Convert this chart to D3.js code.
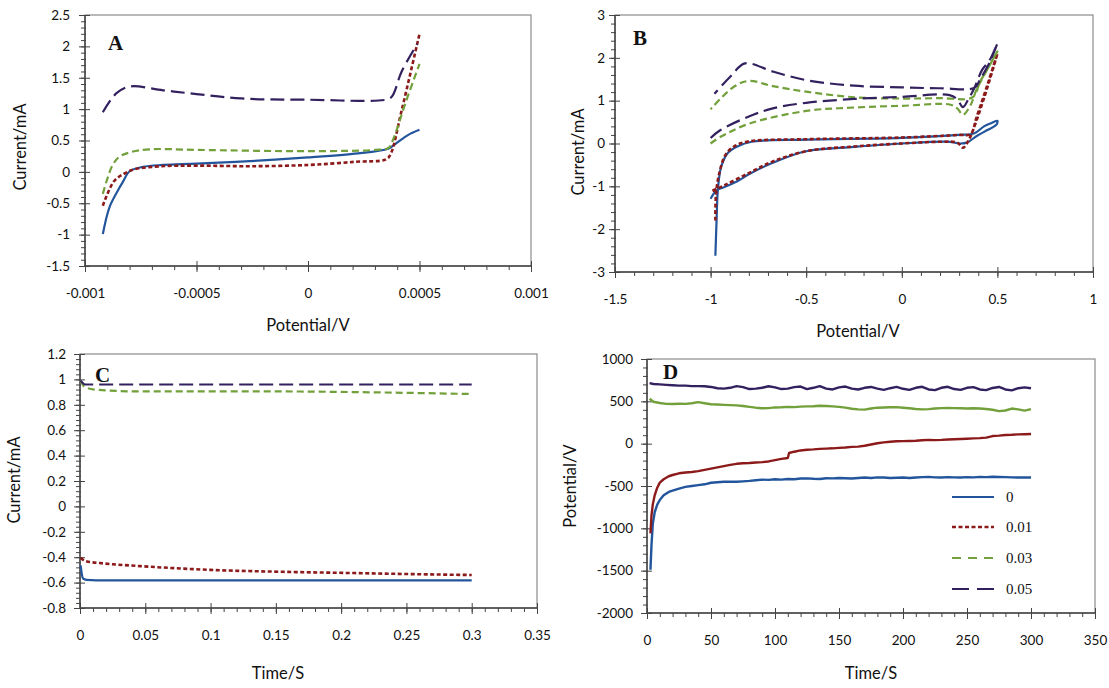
<!DOCTYPE html>
<html>
<head>
<meta charset="utf-8">
<script src="https://cdn.jsdelivr.net/npm/d3@7"></script>
<style>
  body { margin: 0; background: #fff; }
</style>
</head>
<body>
<svg id="chart" width="1109" height="688"></svg>
<script>
// ---- data ----
var seriesNames = ["0", "0.01", "0.03", "0.05"];

// A: potential (V) vs current (mA)
var aBlue = [[-0.00092,-0.99],[-0.00089,-0.56],[-0.00085,-0.28],[-0.00083,-0.16],[-0.0008,0.01],[-0.00074,0.08],[-0.00065,0.11],[-0.0005,0.13],[-0.00026,0.17],[0,0.23],[0.00021,0.29],[0.00036,0.37],[0.00039,0.44],[0.00045,0.59],[0.0005,0.67]];
var aRed = [[-0.00092,-0.54],[-0.00087,-0.15],[-0.00082,-0.02],[-0.00078,0.04],[-0.00066,0.09],[-0.0005,0.10],[-0.00026,0.09],[0,0.11],[0.00021,0.16],[0.00035,0.20],[0.00037,0.28],[0.00042,0.98],[0.0005,2.2]];
var aGreen = [[-0.00092,-0.35],[-0.00088,0.08],[-0.00085,0.23],[-0.0008,0.31],[-0.00071,0.36],[-0.0005,0.35],[0,0.33],[0.0003,0.35],[0.00036,0.38],[0.00038,0.5],[0.00044,1.13],[0.0005,1.72]];
var aPurple = [[-0.00092,0.95],[-0.00086,1.25],[-0.0008,1.36],[-0.00065,1.30],[-0.0005,1.24],[-0.0003,1.17],[0,1.15],[0.00036,1.16],[0.00038,1.22],[0.00042,1.60],[0.00049,2.04]];
var aXTicks = [-0.001, -0.0005, 0, 0.0005, 0.001];
var aXLabels = ["-0.001", "-0.0005", "0", "0.0005", "0.001"];
var aYTicks = [-1.5, -1, -0.5, 0, 0.5, 1, 1.5, 2, 2.5];
var aYLabels = ["-1.5", "-1", "-0.5", "0", "0.5", "1", "1.5", "2", "2.5"];

// B: cyclic voltammograms
var bBlue = [[-0.975,-2.62],[-0.968,-1.7],[-0.962,-1.08],[-0.945,-0.55],[-0.91,-0.22],[-0.86,-0.07],[-0.785,0.04],[-0.5,0.09],[0,0.13],[0.3,0.2],[0.38,0.24],[0.43,0.40],[0.47,0.48],[0.5,0.53],[0.495,0.44],[0.45,0.32],[0.39,0.17],[0.34,0.02],[0.3,0.0],[0.25,0.04],[0,0.0],[-0.25,-0.08],[-0.5,-0.18],[-0.675,-0.45],[-0.8,-0.72],[-0.86,-0.88],[-0.93,-1.02],[-0.97,-1.1],[-1.0,-1.29]];
var bRed = [[-0.975,-1.8],[-0.972,-1.2],[-0.955,-0.7],[-0.92,-0.25],[-0.87,-0.05],[-0.8,0.05],[-0.5,0.10],[0,0.14],[0.3,0.2],[0.36,0.22],[0.39,0.6],[0.45,1.4],[0.5,2.1],[0.44,1.2],[0.38,0.4],[0.35,0.08],[0.32,-0.1],[0.29,0.02],[0.2,0.04],[0,0.0],[-0.25,-0.07],[-0.5,-0.18],[-0.675,-0.42],[-0.8,-0.69],[-0.93,-0.98],[-1.0,-1.12]];
var bGreen = [[-1.0,0.0],[-0.95,0.15],[-0.8,0.46],[-0.5,0.76],[-0.25,0.84],[0,0.88],[0.25,0.91],[0.29,0.82],[0.32,0.67],[0.36,0.9],[0.39,1.25],[0.45,1.75],[0.5,2.15],[0.45,1.75],[0.41,1.45],[0.37,1.08],[0.2,1.06],[0,1.05],[-0.25,1.08],[-0.5,1.21],[-0.675,1.34],[-0.8,1.46],[-0.88,1.32],[-1.0,0.8]];
var bPurple = [[-1.0,0.13],[-0.95,0.31],[-0.8,0.63],[-0.675,0.82],[-0.5,0.95],[-0.25,1.04],[0,1.09],[0.25,1.13],[0.29,1.03],[0.32,0.85],[0.35,1.05],[0.38,1.3],[0.42,1.72],[0.46,1.95],[0.5,2.34],[0.46,1.9],[0.41,1.5],[0.38,1.3],[0.2,1.29],[0,1.31],[-0.25,1.35],[-0.5,1.48],[-0.675,1.68],[-0.82,1.87],[-0.895,1.57],[-0.98,1.16]];
var bXTicks = [-1.5, -1, -0.5, 0, 0.5, 1];
var bXLabels = ["-1.5", "-1", "-0.5", "0", "0.5", "1"];
var bYTicks = [-3, -2, -1, 0, 1, 2, 3];
var bYLabels = ["-3", "-2", "-1", "0", "1", "2", "3"];

// C: current vs time
var cBlue = [[0.0005,-0.465],[0.0015,-0.54],[0.0025,-0.57],[0.005,-0.578],[0.02,-0.583],[0.1,-0.583],[0.2,-0.583],[0.3,-0.583]];
var cRed = [[0.0005,-0.405],[0.004,-0.43],[0.019,-0.45],[0.046,-0.47],[0.1,-0.50],[0.155,-0.515],[0.21,-0.525],[0.265,-0.535],[0.3,-0.54]];
var cGreen = [[0.0005,0.99],[0.003,0.945],[0.011,0.92],[0.046,0.905],[0.1,0.905],[0.155,0.905],[0.21,0.9],[0.3,0.885]];
var cPurple = [[0.0005,0.99],[0.004,0.96],[0.3,0.96]];
var cXTicks = [0, 0.05, 0.1, 0.15, 0.2, 0.25, 0.3, 0.35];
var cXLabels = ["0", "0.05", "0.1", "0.15", "0.2", "0.25", "0.3", "0.35"];
var cYTicks = [-0.8, -0.6, -0.4, -0.2, 0, 0.2, 0.4, 0.6, 0.8, 1, 1.2];
var cYLabels = ["-0.8", "-0.6", "-0.4", "-0.2", "0", "0.2", "0.4", "0.6", "0.8", "1", "1.2"];

// D: potential vs time
var dBlue = [[2.7,-1490],[3.5,-1200],[4.5,-950],[6,-810],[8,-720],[10,-665],[13,-610],[17,-570],[20,-555],[25,-530],[30,-510],[35,-500],[40,-490],[45,-480],[50,-462],[55,-455],[60,-450],[65,-448],[70,-450],[75,-445],[80,-440],[85,-432],[90,-425],[95,-428],[100,-420],[105,-425],[110,-418],[115,-420],[120,-412],[125,-410],[130,-415],[135,-418],[140,-408],[145,-410],[150,-405],[155,-408],[160,-412],[165,-405],[170,-400],[175,-405],[180,-398],[185,-400],[190,-405],[195,-402],[200,-400],[205,-405],[210,-400],[215,-395],[220,-392],[225,-398],[230,-400],[235,-395],[240,-398],[245,-400],[250,-395],[255,-398],[260,-392],[265,-395],[270,-390],[275,-393],[280,-395],[285,-398],[290,-400],[295,-398],[300,-400]];
var dRed = [[2.7,-1060],[3.5,-850],[4.5,-720],[6,-610],[8,-520],[10,-460],[13,-420],[17,-385],[20,-370],[25,-350],[30,-340],[35,-335],[40,-325],[45,-310],[50,-295],[55,-280],[60,-265],[65,-250],[70,-238],[75,-232],[80,-228],[85,-222],[90,-218],[95,-210],[100,-195],[105,-180],[110,-170],[111,-110],[115,-95],[120,-80],[125,-72],[130,-68],[135,-62],[140,-58],[145,-55],[150,-50],[155,-45],[160,-38],[165,-35],[170,-25],[175,-10],[180,5],[185,15],[190,22],[195,28],[200,30],[205,32],[210,35],[215,40],[220,45],[225,42],[230,45],[235,50],[240,52],[245,55],[250,58],[255,62],[260,65],[265,72],[270,90],[275,95],[280,102],[285,105],[290,110],[295,112],[300,115]];
var dGreen = [[2,530],[5,495],[10,480],[15,470],[20,468],[25,472],[30,470],[35,478],[40,490],[45,478],[50,465],[55,462],[60,458],[65,455],[70,452],[75,445],[80,435],[85,425],[90,418],[95,420],[100,428],[105,430],[110,435],[115,432],[120,438],[125,440],[130,442],[135,448],[140,445],[145,440],[150,435],[155,425],[160,412],[165,405],[170,402],[175,415],[180,425],[185,428],[190,430],[195,432],[200,425],[205,418],[210,410],[215,405],[220,408],[225,415],[230,420],[235,422],[240,420],[245,418],[250,415],[255,418],[260,415],[265,410],[270,400],[275,385],[280,392],[285,415],[290,405],[295,390],[300,408]];
var dPurple = [[2,715],[5,705],[10,700],[15,695],[20,690],[25,685],[30,685],[35,680],[40,680],[45,678],[50,670],[55,655],[60,650],[65,660],[70,680],[75,668],[80,645],[85,650],[90,660],[95,678],[100,665],[105,645],[110,650],[115,668],[120,675],[125,645],[130,660],[135,680],[140,650],[145,640],[150,665],[155,675],[160,650],[165,640],[170,660],[175,670],[180,650],[185,635],[190,655],[195,670],[200,648],[205,635],[210,660],[215,672],[220,640],[225,632],[230,660],[235,672],[240,645],[245,635],[250,660],[255,668],[260,640],[265,632],[270,658],[275,670],[280,640],[285,630],[290,655],[295,665],[300,655]];
var dXTicks = [0, 50, 100, 150, 200, 250, 300, 350];
var dXLabels = ["0", "50", "100", "150", "200", "250", "300", "350"];
var dYTicks = [-2000, -1500, -1000, -500, 0, 500, 1000];
var dYLabels = ["-2000", "-1500", "-1000", "-500", "0", "500", "1000"];

// ---- styles ----
var colors = ["#22559c", "#8c1a1a", "#72a03a", "#33215f"];
var dashes = [null, "4,2.5", "7,4", "14,6"];
var legendDashes = [null, "4,2.5", "9,7", "17,8"];
var widths = [2.2, 2.6, 2.2, 2.2];
var tickFont = "Lato, 'Open Sans', sans-serif";

var svg = d3.select("#chart");

function drawPanel(p) {
  var g = svg.append("g");
  var x = d3.scaleLinear().domain(p.xDomain).range([p.left, p.right]);
  var y = d3.scaleLinear().domain(p.yDomain).range([p.bottom, p.top]);

  g.append("rect")
    .attr("x", p.left).attr("y", p.top)
    .attr("width", p.right - p.left).attr("height", p.bottom - p.top)
    .attr("fill", "none").attr("stroke", "#8a8a8a").attr("stroke-width", 1.2);

  // minor ticks
  var ym = g.append("g").attr("transform", "translate(" + p.left + ",0)")
    .call(d3.axisLeft(y).tickValues(p.yMinor).tickFormat("").tickSize(4));
  ym.select(".domain").remove();
  ym.selectAll("line").attr("x2", -4).attr("x1", 1).attr("stroke", "#444");

  var xm = g.append("g").attr("transform", "translate(0," + p.bottom + ")")
    .call(d3.axisBottom(x).tickValues(p.xMinor).tickFormat("").tickSize(4));
  xm.select(".domain").remove();
  xm.selectAll("line").attr("stroke", "#444");

  // major ticks + labels
  var ya = g.append("g").attr("transform", "translate(" + p.left + ",0)")
    .call(d3.axisLeft(y).tickValues(p.yTicks).tickFormat(function(d, i) { return p.yLabels[i]; }).tickSize(6));
  ya.select(".domain").remove();
  ya.selectAll("line").attr("x1", 5).attr("x2", -6).attr("stroke", "#444");
  ya.selectAll("text").attr("x", -p.yPad).attr("font-size", 13.5).attr("font-family", tickFont).attr("fill", "#111");

  var xa = g.append("g").attr("transform", "translate(0," + p.bottom + ")")
    .call(d3.axisBottom(x).tickValues(p.xTicks).tickFormat(function(d, i) { return p.xLabels[i]; }).tickSize(6));
  xa.select(".domain").remove();
  xa.selectAll("line").attr("y1", -5).attr("y2", 6).attr("stroke", "#444");
  xa.selectAll("text").attr("y", 27).attr("dy", "0.35em").attr("font-size", 13.5).attr("font-family", tickFont).attr("fill", "#111");

  // axis lines
  g.append("line").attr("x1", p.left).attr("x2", p.left).attr("y1", p.top).attr("y2", p.bottom)
    .attr("stroke", "#444").attr("stroke-width", 1.5);
  g.append("line").attr("x1", p.left).attr("x2", p.right).attr("y1", p.bottom).attr("y2", p.bottom)
    .attr("stroke", "#444").attr("stroke-width", 1.5);

  // series
  var line = d3.line().x(function(d) { return x(d[0]); }).y(function(d) { return y(d[1]); }).curve(p.curve);
  p.series.forEach(function(s, i) {
    g.append("path").datum(s)
      .attr("d", line)
      .attr("fill", "none")
      .attr("stroke", colors[i])
      .attr("stroke-width", p.solid ? 2.4 : widths[i])
      .attr("stroke-dasharray", p.solid ? null : dashes[i])
      .attr("stroke-linejoin", "round");
  });

  // titles
  g.append("text").attr("x", p.xTitlePos[0]).attr("y", p.xTitlePos[1]).attr("dy", "0.35em")
    .attr("text-anchor", "middle").attr("font-size", 16.5).attr("font-family", tickFont).attr("fill", "#111")
    .text(p.xTitle);
  g.append("text").attr("transform", "translate(" + p.yTitlePos[0] + "," + p.yTitlePos[1] + ") rotate(-90)")
    .attr("dy", "0.35em").attr("text-anchor", "middle").attr("font-size", 16.5).attr("font-family", tickFont).attr("fill", "#111")
    .text(p.yTitle);
  g.append("text").attr("x", p.letterPos[0]).attr("y", p.letterPos[1]).attr("dy", "0.35em")
    .attr("font-size", 21).attr("font-weight", "bold").attr("font-family", "'Liberation Serif', 'DejaVu Serif', serif")
    .attr("fill", "#111").text(p.letter);

  return { x: x, y: y };
}

drawPanel({
  left: 85, right: 531, top: 15, bottom: 266,
  xDomain: [-0.001, 0.001], yDomain: [-1.5, 2.5],
  xTicks: aXTicks, xLabels: aXLabels, yTicks: aYTicks, yLabels: aYLabels,
  xMinor: d3.range(-10, 11).map(function(k) { return k * 0.0001; }),
  yMinor: d3.range(-15, 26).map(function(k) { return k / 10; }),
  yPad: 15, curve: d3.curveCatmullRom.alpha(0.5),
  series: [aBlue, aRed, aGreen, aPurple],
  xTitle: "Potential/V", xTitlePos: [308, 325],
  yTitle: "Current/mA", yTitlePos: [20, 147],
  letter: "A", letterPos: [108, 43]
});

drawPanel({
  left: 615, right: 1093, top: 15, bottom: 272,
  xDomain: [-1.5, 1], yDomain: [-3, 3],
  xTicks: bXTicks, xLabels: bXLabels, yTicks: bYTicks, yLabels: bYLabels,
  xMinor: d3.range(-15, 11).map(function(k) { return k / 10; }),
  yMinor: d3.range(-15, 16).map(function(k) { return k / 5; }),
  yPad: 10, curve: d3.curveCatmullRom.alpha(0.5),
  series: [bBlue, bRed, bGreen, bPurple],
  xTitle: "Potential/V", xTitlePos: [858, 331],
  yTitle: "Current/mA", yTitlePos: [578, 152],
  letter: "B", letterPos: [633, 38]
});

drawPanel({
  left: 80, right: 537, top: 354, bottom: 608,
  xDomain: [0, 0.35], yDomain: [-0.8, 1.2],
  xTicks: cXTicks, xLabels: cXLabels, yTicks: cYTicks, yLabels: cYLabels,
  xMinor: d3.range(0, 36).map(function(k) { return k / 100; }),
  yMinor: d3.range(-20, 31).map(function(k) { return k / 25; }),
  yPad: 14, curve: d3.curveMonotoneX,
  series: [cBlue, cRed, cGreen, cPurple],
  xTitle: "Time/S", xTitlePos: [278, 673],
  yTitle: "Current/mA", yTitlePos: [14, 480],
  letter: "C", letterPos: [95, 375]
});

drawPanel({
  left: 647, right: 1095, top: 359, bottom: 613,
  xDomain: [0, 350], yDomain: [-2000, 1000],
  xTicks: dXTicks, xLabels: dXLabels, yTicks: dYTicks, yLabels: dYLabels,
  xMinor: d3.range(0, 36).map(function(k) { return k * 10; }),
  yMinor: d3.range(-20, 11).map(function(k) { return k * 100; }),
  yPad: 14, curve: d3.curveLinear, solid: true,
  series: [dBlue, dRed, dGreen, dPurple],
  xTitle: "Time/S", xTitlePos: [871, 673],
  yTitle: "Potential/V", yTitlePos: [570, 486],
  letter: "D", letterPos: [663, 372]
});

// legend (in panel D)
var legendY = [497, 527, 558, 589];
var lg = svg.append("g");
seriesNames.forEach(function(name, i) {
  lg.append("line").attr("x1", 952).attr("x2", 994).attr("y1", legendY[i]).attr("y2", legendY[i])
    .attr("stroke", colors[i]).attr("stroke-width", widths[i])
    .attr("stroke-dasharray", legendDashes[i]);
  lg.append("text").attr("x", 1006).attr("y", legendY[i]).attr("dy", "0.35em")
    .attr("font-size", 15).attr("font-family", "'Liberation Serif', serif").attr("fill", "#111")
    .text(name);
});
</script>
</body>
</html>
